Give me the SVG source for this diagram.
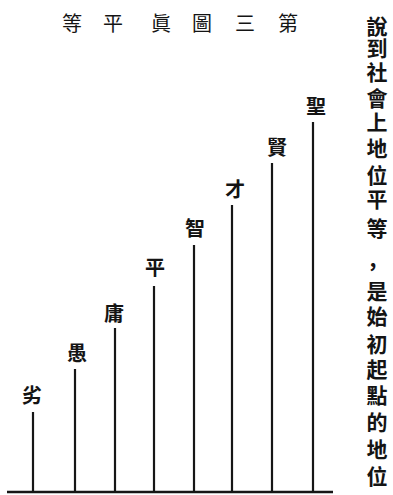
<svg xmlns="http://www.w3.org/2000/svg" width="393" height="495" viewBox="0 0 393 495">
<style>
text{font-family:"Liberation Serif","Noto Sans CJK TC",serif;fill:#141414;text-anchor:middle;dominant-baseline:central}
.t{font-size:20px}
.lab{font-size:20px;font-weight:bold}
.v{font-size:21px;font-weight:bold}
.bar{stroke:#161616;stroke-width:2.2;fill:none}
.base{stroke:#161616;stroke-width:2.6;fill:none}
</style>
<rect width="393" height="495" fill="#ffffff"/>
<g id="title">
<text class="t" x="72" y="24">等</text>
<text class="t" x="113" y="24">平</text>
<text class="t" x="161" y="24">眞</text>
<text class="t" x="202" y="24">圖</text>
<text class="t" x="245" y="24">三</text>
<text class="t" x="288" y="24">第</text>
</g>
<g id="side-text">
<text class="v" x="377" y="27">說</text>
<text class="v" x="377" y="49">到</text>
<text class="v" x="377" y="73">社</text>
<text class="v" x="377" y="99">會</text>
<text class="v" x="377" y="123">上</text>
<text class="v" x="377" y="149">地</text>
<text class="v" x="377" y="176">位</text>
<text class="v" x="377" y="200">平</text>
<text class="v" x="377" y="229">等</text>
<text class="v" x="373" y="267">，</text>
<text class="v" x="377" y="292">是</text>
<text class="v" x="377" y="317">始</text>
<text class="v" x="377" y="345">初</text>
<text class="v" x="377" y="370">起</text>
<text class="v" x="377" y="396">點</text>
<text class="v" x="377" y="423">的</text>
<text class="v" x="377" y="450">地</text>
<text class="v" x="377" y="477">位</text>
</g>
<g id="connectors">
<line class="base" x1="7" y1="492" x2="333" y2="492"/>
</g>
<g id="n-lie"><line class="bar" x1="33" y1="412" x2="33" y2="491"/><text class="lab" x="32" y="396">劣</text></g>
<g id="n-yu"><line class="bar" x1="75" y1="369" x2="75" y2="491"/><text class="lab" x="77" y="354">愚</text></g>
<g id="n-yong"><line class="bar" x1="115" y1="328" x2="115" y2="491"/><text class="lab" x="114" y="314">庸</text></g>
<g id="n-ping"><line class="bar" x1="154" y1="286" x2="154" y2="491"/><text class="lab" x="155" y="268">平</text></g>
<g id="n-zhi"><line class="bar" x1="194" y1="245" x2="194" y2="491"/><text class="lab" x="195" y="229">智</text></g>
<g id="n-cai"><line class="bar" x1="232" y1="205" x2="232" y2="491"/><text class="lab" x="235" y="190">才</text></g>
<g id="n-xian"><line class="bar" x1="272" y1="163" x2="272" y2="491"/><text class="lab" x="277" y="148">賢</text></g>
<g id="n-sheng"><line class="bar" x1="313" y1="122" x2="313" y2="491"/><text class="lab" x="316" y="107">聖</text></g>
</svg>
